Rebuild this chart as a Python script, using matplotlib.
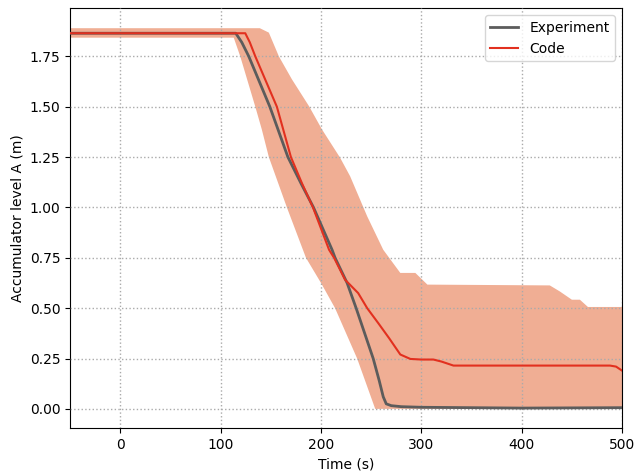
import numpy as np
import matplotlib
matplotlib.use("Agg")
import matplotlib.pyplot as plt

# experiment (measured level)
t_exp = [-50, 115, 121, 128, 149, 167, 180, 192.5, 211, 214, 226, 235, 252, 258,
         262, 265, 270, 280, 300, 350, 400, 450, 500]
y_exp = [1.865, 1.865, 1.82, 1.75, 1.50, 1.25, 1.12, 1.0, 0.79, 0.75, 0.625, 0.5,
         0.25, 0.14, 0.06, 0.025, 0.016, 0.011, 0.008, 0.006, 0.004, 0.005, 0.006]

# code prediction
t_code = [-50, 124.5, 129, 134.5, 156, 170, 181, 192, 208, 213, 224, 237, 246,
          257, 268, 279, 289, 300, 312, 320, 332, 488, 494, 500]
y_code = [1.865, 1.865, 1.82, 1.75, 1.50, 1.25, 1.12, 1.0, 0.79, 0.75, 0.641,
          0.575, 0.5, 0.426, 0.35, 0.27, 0.248, 0.245, 0.245, 0.235, 0.215, 0.215,
          0.21, 0.19]

# uncertainty band
t_up = [-50, 139, 148, 158, 171, 188, 201, 219, 229, 246, 262, 279, 294, 306,
        428, 438, 450, 458, 466, 500]
y_up = [1.89, 1.89, 1.868, 1.75, 1.636, 1.503, 1.387, 1.247, 1.155, 0.956, 0.79,
        0.675, 0.675, 0.617, 0.613, 0.583, 0.542, 0.542, 0.506, 0.506]
t_lo = [-50, 113, 119.5, 134.5, 141, 148, 166, 185, 200, 214, 236, 254, 500]
y_lo = [1.843, 1.843, 1.75, 1.5, 1.387, 1.25, 1.0, 0.75, 0.625, 0.5, 0.25, 0.0, 0.0]

fig = plt.figure(figsize=(6.38, 4.74), dpi=100)
ax = fig.add_axes([0.11, 0.097, 0.865, 0.886])

band_x = np.concatenate([t_up, t_lo[::-1]])
band_y = np.concatenate([y_up, y_lo[::-1]])
ax.fill(band_x, band_y, color="#f0ae94", lw=0, zorder=1)

ax.plot(t_exp, y_exp, color="#5c5c5c", lw=2, label="Experiment", zorder=3)
ax.plot(t_code, y_code, color="#e2301f", lw=1.5, label="Code", zorder=4)

ax.set_xlim(-50, 500)
ax.set_ylim(-0.095, 1.99)
ax.set_xticks([0, 100, 200, 300, 400, 500])
ax.set_yticks(np.arange(0, 1.76, 0.25))
ax.yaxis.set_major_formatter(matplotlib.ticker.FormatStrFormatter("%.2f"))
ax.grid(True, linestyle=":", color="#aaaaaa", lw=1, zorder=2)
ax.set_axisbelow(False)

ax.set_xlabel("Time (s)")
ax.set_ylabel("Accumulator level A (m)")
ax.legend(loc="upper right")

fig.savefig("out.png", dpi=100)
